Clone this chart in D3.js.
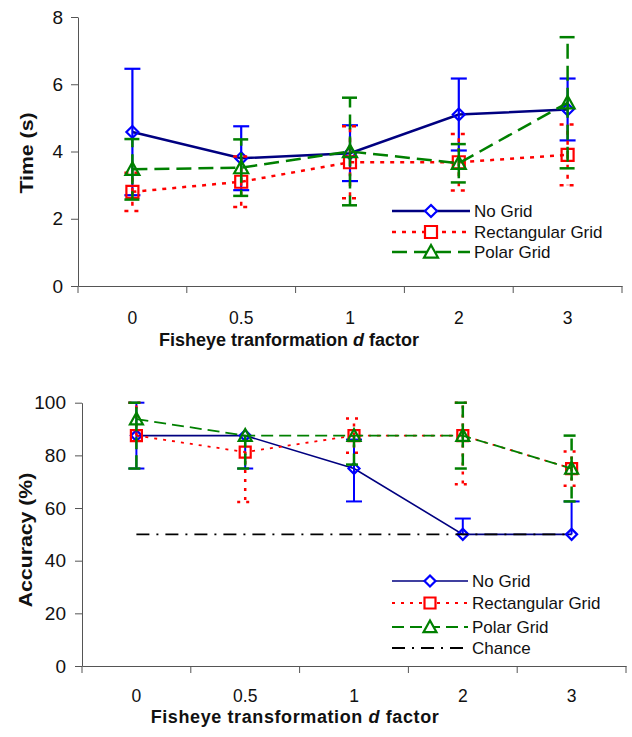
<!DOCTYPE html>
<html><head><meta charset="utf-8">
<script src="https://cdn.jsdelivr.net/npm/d3@7"></script>
<style>body{margin:0;background:#fff}svg{display:block;font-family:"Liberation Sans",Arial,sans-serif}</style>
</head><body><svg id="c" width="632" height="737"></svg>
<script>
const categories = ["0","0.5","1","2","3"];
// Top chart: time (s)
const timeNoGrid = [4.58, 3.80, 3.95, 5.10, 5.25];
const timeNoGridErr = [1.88, 0.95, 0.83, 1.07, 0.92];
const timeRect = [2.80, 3.10, 3.68, 3.68, 3.90];
const timeRectErr = [0.57, 0.75, 1.07, 0.84, 0.90];
const timePolar = [3.47, 3.52, 4.00, 3.65, 5.45];
const timePolarErr = [0.90, 0.84, 1.60, 0.57, 1.95];
const timeTicks = [0, 2, 4, 6, 8];
// Bottom chart: accuracy (%)
const accNoGrid = [87.5, 87.5, 75, 50, 50];
const accNoGridPlus = [12.5, 0, 11, 6, 12.5];
const accNoGridMinus = [12.5, 12.5, 12.5, 0, 0];
const accRect = [87.5, 81.25, 87.5, 87.5, 75];
const accRectPlus = [12.5, 0, 6.5, 12.5, 6.5];
const accRectMinus = [0, 19, 6.5, 18.5, 6.5];
const accPolar = [93.75, 87.5, 87.5, 87.5, 75];
const accPolarPlus = [6.25, 0, 0, 12.5, 12.5];
const accPolarMinus = [18.75, 12.5, 11, 12.5, 12.5];
const accChance = [50, 50, 50, 50, 50];
const accTicks = [0, 20, 40, 60, 80, 100];

const svg = d3.select("#c");
const AX = "#555";

function symbolPath(type, size){
  const s = size/2;
  if(type==="diamond") return `M0,${-s}L${s},0L0,${s}L${-s},0Z`;
  if(type==="square") return `M${-s},${-s}H${s}V${s}H${-s}Z`;
  if(type==="triangle") return `M0,${-s}L${s},${s*0.8}L${-s},${s*0.8}Z`;
  return "";
}

function chart(cfg){
  const g = svg.append("g");
  const x = d3.scaleBand().domain(categories).range([cfg.left, cfg.right]).padding(0);
  const y = d3.scaleLinear().domain(cfg.ydomain).range([cfg.bottom, cfg.top]);
  const cx = c => x(c) + x.bandwidth()/2;
  // y axis
  const ya = g.append("g").attr("transform",`translate(${cfg.left},0)`)
    .call(d3.axisLeft(y).tickValues(cfg.ticks).tickSize(7).tickPadding(cfg.tickPad).tickSizeOuter(0));
  ya.select(".domain").attr("stroke",AX);
  ya.selectAll(".tick line").attr("stroke",AX);
  ya.selectAll("text").attr("font-size",19).attr("fill","#111").attr("font-family","Liberation Sans, Arial, sans-serif");
  // x axis: labels at centers
  const xa = g.append("g").attr("transform",`translate(0,${cfg.bottom})`)
    .call(d3.axisBottom(x).tickSize(0).tickPadding(cfg.xTickPad).tickSizeOuter(0));
  xa.select(".domain").attr("stroke",AX);
  xa.selectAll("text").attr("font-size",17.5).attr("fill","#111").attr("font-family","Liberation Sans, Arial, sans-serif");
  // ticks at band boundaries
  const bounds = categories.map(c=>x(c)).concat([cfg.right]);
  g.selectAll(".bt").data(bounds).enter().append("line")
    .attr("x1",d=>d).attr("x2",d=>d).attr("y1",cfg.bottom).attr("y2",cfg.bottom+7).attr("stroke",AX);
  // axis titles
  g.append("text").attr("transform",`translate(${cfg.ylabX},${cfg.ylabY}) rotate(-90) scale(1.15,1)`)
    .attr("text-anchor","middle").attr("font-weight","bold").attr("font-size",18.5).attr("fill","#111").text(cfg.ylabel);
  const xt = g.append("text").attr("x",cfg.xlabX).attr("y",cfg.xlabY).attr("text-anchor","middle")
    .attr("font-weight","bold").attr("font-size",18).attr("letter-spacing",cfg.xlabLS).attr("fill","#111");
  xt.append("tspan").text(cfg.xlabel[0]);
  xt.append("tspan").attr("font-style","italic").text(" d ");
  xt.append("tspan").text(cfg.xlabel[1]);

  cfg.series.forEach(s=>{
    const line = d3.line().x((d,i)=>cx(categories[i])).y(d=>y(d));
    g.append("path").attr("d",line(s.values)).attr("fill","none")
      .attr("stroke",s.lineColor).attr("stroke-width",s.lw).attr("stroke-dasharray",s.dash||null);
    if(s.plus){
      s.values.forEach((v,i)=>{
        const X = cx(categories[i]);
        const p = s.plus[i], m = s.minus[i];
        const eb = g.append("g").attr("stroke",s.errColor).attr("stroke-width",s.ew).attr("stroke-dasharray",s.edash||null);
        if(p>0){
          eb.append("line").attr("x1",X).attr("x2",X).attr("y1",y(v)).attr("y2",y(v+p));
          eb.append("line").attr("x1",X-cfg.cap).attr("x2",X+cfg.cap).attr("y1",y(v+p)).attr("y2",y(v+p));
        }
        if(m>0){
          eb.append("line").attr("x1",X).attr("x2",X).attr("y1",y(v)).attr("y2",y(v-m));
          eb.append("line").attr("x1",X-cfg.cap).attr("x2",X+cfg.cap).attr("y1",y(v-m)).attr("y2",y(v-m));
        }
      });
    }
    if(s.marker){
      g.selectAll(null).data(s.values).enter().append("path")
        .attr("transform",(d,i)=>`translate(${cx(categories[i])},${y(d)})`)
        .attr("d",symbolPath(s.marker,s.msize)).attr("fill","none")
        .attr("stroke",s.markerColor).attr("stroke-width",2.2);
    }
  });

  // legend
  cfg.series.forEach((s,k)=>{
    const ly = cfg.legY[k];
    const lg = g.append("g");
    lg.append("line").attr("x1",cfg.legX0).attr("x2",cfg.legX1).attr("y1",ly).attr("y2",ly)
      .attr("stroke",s.lineColor).attr("stroke-width",s.lw).attr("stroke-dasharray",s.dash||null);
    if(s.marker){
      lg.append("path").attr("transform",`translate(${(cfg.legX0+cfg.legX1)/2},${ly})`)
        .attr("d",symbolPath(s.marker,s.msize)).attr("fill","#fff").attr("stroke",s.markerColor).attr("stroke-width",2.2);
    }
    lg.append("text").attr("x",cfg.legX1+4).attr("y",ly+6).attr("font-size",cfg.legFont).attr("fill","#111").text(s.name);
  });
}

chart({
  left:78, right:622, top:17, bottom:286, ydomain:[0,8], ticks:timeTicks, tickPad:8, xTickPad:26, cap:8,
  ylabel:"Time (s)", ylabX:33, ylabY:153, xlabel:["Fisheye tranformation","factor"], xlabX:289, xlabY:346, xlabLS:0,
  legX0:392, legX1:470, legY:[211,232,252], legFont:17,
  series:[
    {name:"No Grid", values:timeNoGrid, plus:timeNoGridErr, minus:timeNoGridErr, lineColor:"#000080", errColor:"#0000FF", markerColor:"#0000FF", lw:2.5, ew:2.2, marker:"diamond", msize:12},
    {name:"Rectangular Grid", values:timeRect, plus:timeRectErr, minus:timeRectErr, lineColor:"#FF0000", errColor:"#FF0000", markerColor:"#FF0000", lw:2.5, ew:2.5, dash:"4,6", edash:"4,6", marker:"square", msize:12},
    {name:"Polar Grid", values:timePolar, plus:timePolarErr, minus:timePolarErr, lineColor:"#008000", errColor:"#008000", markerColor:"#008000", lw:2.5, ew:2.5, dash:"15,7", edash:"15,7", marker:"triangle", msize:14}
  ]
});

chart({
  left:82, right:626, top:402.7, bottom:666, ydomain:[0,100], ticks:accTicks, tickPad:9, xTickPad:24, cap:8,
  ylabel:"Accuracy (%)", ylabX:32, ylabY:540, xlabel:["Fisheye transformation","factor"], xlabX:295, xlabY:723, xlabLS:0.6,
  legX0:392, legX1:468, legY:[581,603,627,648], legFont:17,
  series:[
    {name:"No Grid", values:accNoGrid, plus:accNoGridPlus, minus:accNoGridMinus, lineColor:"#000080", errColor:"#0000FF", markerColor:"#0000FF", lw:1.6, ew:2, marker:"diamond", msize:11},
    {name:"Rectangular Grid", values:accRect, plus:accRectPlus, minus:accRectMinus, lineColor:"#FF0000", errColor:"#FF0000", markerColor:"#FF0000", lw:1.8, ew:2.5, dash:"3,6", edash:"3,6", marker:"square", msize:11},
    {name:"Polar Grid", values:accPolar, plus:accPolarPlus, minus:accPolarMinus, lineColor:"#008000", errColor:"#008000", markerColor:"#008000", lw:1.8, ew:2.5, dash:"12,6", edash:"12,6", marker:"triangle", msize:13},
    {name:"Chance", values:accChance, lineColor:"#000", lw:1.8, dash:"13,7,2,7"}
  ]
});
</script></body></html>
